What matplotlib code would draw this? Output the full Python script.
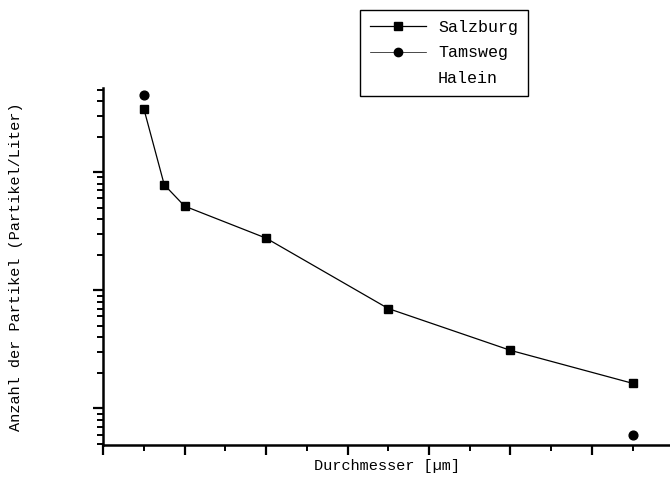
import matplotlib
matplotlib.use('Agg')
import matplotlib.pyplot as plt
from matplotlib.ticker import LogLocator, NullFormatter, MultipleLocator

# values (log y axis, no numbers printed)
salzburg_d = [0.5, 0.75, 1.0, 2.0, 3.5, 5.0, 6.5]
salzburg_n = [342, 78, 51.5, 27.6, 7.0, 3.1, 1.63]
tamsweg_d = [0.5, 6.5]
tamsweg_n = [450, 0.6]
legend_labels = ['Salzburg', 'Tamsweg', 'Halein']

plt.rcParams['font.family'] = ['Liberation Mono', 'DejaVu Sans Mono']

fig = plt.figure(figsize=(6.7, 5.04), dpi=100)
ax = fig.add_axes([0.154, 0.117, 0.851, 0.708])

ax.plot(salzburg_d, salzburg_n, color='black', lw=0.9,
        marker='s', ms=6.3, mfc='black', mec='black')
ax.plot(tamsweg_d, tamsweg_n, color='black', lw=0,
        marker='o', ms=6.3, mfc='black', mec='black')

ax.set_yscale('log')
ax.set_xlim(0, 7)
ax.set_ylim(10 ** -0.31, 10 ** 2.71)

ax.xaxis.set_major_locator(MultipleLocator(1))
ax.xaxis.set_minor_locator(MultipleLocator(0.5))
ax.yaxis.set_major_locator(LogLocator(base=10))
ax.yaxis.set_minor_locator(LogLocator(base=10, subs=range(2, 10)))
ax.xaxis.set_major_formatter(NullFormatter())
ax.yaxis.set_major_formatter(NullFormatter())
ax.yaxis.set_minor_formatter(NullFormatter())

for side in ['top', 'right']:
    ax.spines[side].set_visible(False)
for side in ['left', 'bottom']:
    ax.spines[side].set_linewidth(1.8)
ax.tick_params(which='major', direction='out', length=7, width=1.6)
ax.tick_params(which='minor', direction='out', length=4, width=1.4)

ax.set_xlabel('Durchmesser [µm]', fontsize=11)
ax.set_ylabel('Anzahl der Partikel (Partikel/Liter)', fontsize=11)
ax.xaxis.set_label_coords(0.497, -0.06)
ax.yaxis.set_label_coords(-0.153, 0.50)
ax.xaxis.label.set_verticalalignment('center')
ax.yaxis.label.set_verticalalignment('center')

leg_handles = [
    plt.Line2D([], [], color='black', lw=0.9, marker='s', ms=6),
    plt.Line2D([], [], color='black', lw=0.5, marker='o', ms=6),
    plt.Line2D([], [], lw=0, marker=''),
]
leg = fig.legend(leg_handles, legend_labels, loc='upper left',
                 bbox_to_anchor=(0.537, 0.98), fancybox=False, framealpha=1,
                 edgecolor='black', fontsize=12, handlelength=3.4,
                 labelspacing=0.62, borderpad=0.6, handletextpad=0.7,
                 borderaxespad=0)
leg.get_frame().set_linewidth(1.0)

fig.savefig('out.png', dpi=100)
